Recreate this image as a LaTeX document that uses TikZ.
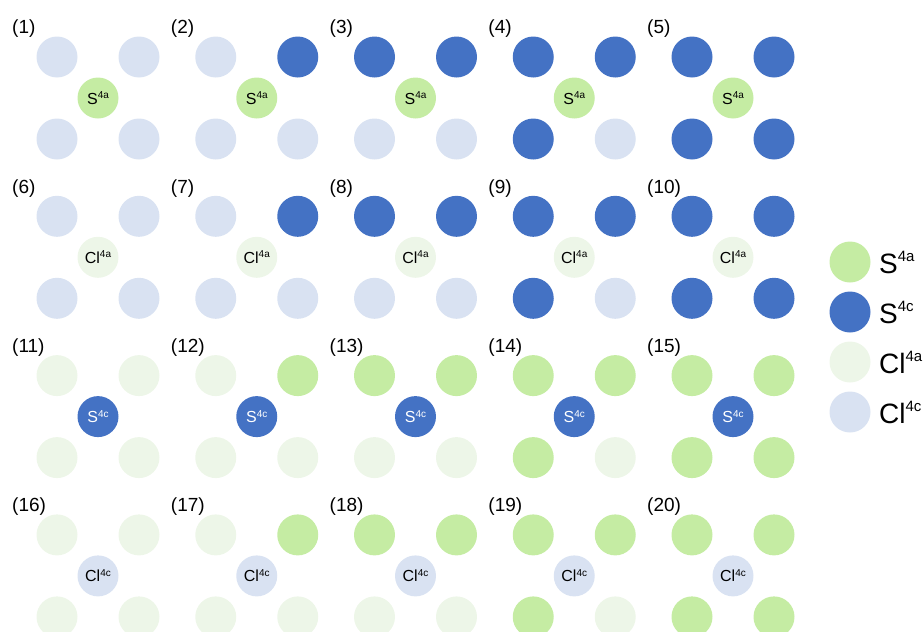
\documentclass[tikz,border=0pt]{standalone}
\usepackage{fontspec}
\setmainfont{Liberation Sans}
\definecolor{sa}{HTML}{C5ECA3}
\definecolor{sc}{HTML}{4472C4}
\definecolor{cla}{HTML}{EDF6E8}
\definecolor{clc}{HTML}{D9E2F2}
\newcommand\atomlab[2]{#1\raisebox{0.34em}{\fontsize{10}{10}\selectfont #2}}
\newcommand\leglab[2]{#1\raisebox{0.4em}{\fontsize{15}{15}\selectfont #2}}
\tikzset{
  atom/.style={circle, draw=none, minimum size=41pt, inner sep=0pt, font=\fontsize{16}{16}\selectfont},
  legatom/.style={circle, draw=none, minimum size=41pt, inner sep=0pt},
  cellnum/.style={anchor=west, inner sep=0pt, font=\fontsize{19}{19}\selectfont},
  legtxt/.style={anchor=base west, inner sep=0pt, font=\fontsize{28}{28}\selectfont},
}
\begin{document}
\begin{tikzpicture}[x=1pt,y=-1pt]
\useasboundingbox (0,0) rectangle (924,632);
\clip (0,0) rectangle (924,632);
% rows: centre colour, centre label, light corner, dark corner, text colour
\foreach \r/\cc/\cn/\cs/\lc/\dc/\tc in {0/sa/S/4a/clc/sc/black, 1/cla/Cl/4a/clc/sc/black, 2/sc/S/4c/cla/sa/white, 3/clc/Cl/4c/cla/sa/black}{
  \foreach \k in {0,...,4}{
    \pgfmathsetmacro{\cx}{98+158.75*\k}
    \pgfmathsetmacro{\cy}{98+159.3*\r}
    \pgfmathtruncatemacro{\num}{\r*5+\k+1}
    \node[cellnum] (n\num) at (12+158.75*\k, 29+159.3*\r) {(\num)};
    % corners: TR=1, TL=2, BL=3, BR=4
    \foreach \i/\dx/\dy in {1/41/-41, 2/-41/-41, 3/-41/41, 4/41/41}{
      \ifnum\i>\k
        \node[atom, fill=\lc] (c\num-\i) at (\cx+\dx, \cy+\dy) {};
      \else
        \node[atom, fill=\dc] (c\num-\i) at (\cx+\dx, \cy+\dy) {};
      \fi
    }
    \node[atom, fill=\cc, text=\tc] (m\num) at (\cx, \cy) {\atomlab{\cn}{\cs}};
  }
}
% legend
\node[legatom, fill=sa] (l1) at (850,262) {};
\node[legatom, fill=sc] (l2) at (850,312) {};
\node[legatom, fill=cla] (l3) at (850,362) {};
\node[legatom, fill=clc] (l4) at (850,412) {};
\node[legtxt] (t1) at (879,273) {\leglab{S}{4a}};
\node[legtxt] (t2) at (879,323) {\leglab{S}{4c}};
\node[legtxt] (t3) at (879,373) {\leglab{Cl}{4a}};
\node[legtxt] (t4) at (879,423) {\leglab{Cl}{4c}};
\end{tikzpicture}
\end{document}
